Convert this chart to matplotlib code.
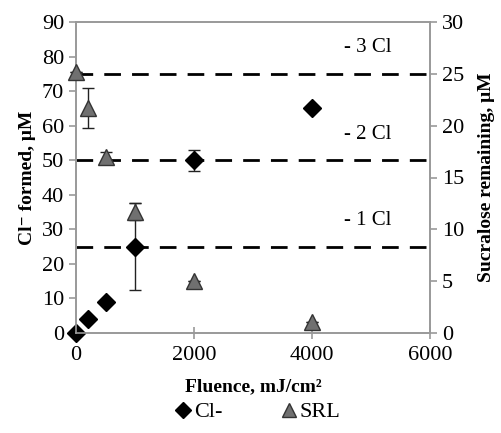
import numpy as np
import matplotlib.pyplot as plt
from matplotlib.lines import Line2D

plt.rcParams['font.family'] = ['Liberation Serif', 'DejaVu Serif']

fluence = [0, 200, 500, 1000, 2000, 4000]
cl_formed = [0, 4, 9, 25, 50, 65]
cl_err = [0, 0, 0, 12.5, 3, 0]
srl = [25.2, 21.7, 17.0, 11.7, 5.0, 1.1]
srl_err = [0, 1.9, 0.5, 0.8, 0, 0]
loss_levels = [25, 50, 75]
loss_labels = ['- 1 Cl', '- 2 Cl', '- 3 Cl']

fig = plt.figure(figsize=(5.02, 4.33), dpi=100)
ax = fig.add_axes([76 / 502, 1 - 333 / 433, 354 / 502, 311 / 433])
ax2 = ax.twinx()

for lvl, lab in zip(loss_levels, loss_labels):
    ax.axhline(lvl, color='black', ls=(0, (6, 4)), lw=2, zorder=1)
    ax.text(4950, lvl + 7.5, lab, ha='center', va='center', fontsize=15)

ax.errorbar(fluence, cl_formed, yerr=cl_err, fmt='D', color='black', ms=9,
            ecolor='#222222', elinewidth=1, capsize=4, zorder=3, clip_on=False)
ax2.errorbar(fluence, srl, yerr=srl_err, fmt='^', mfc='#707070', mec='#333333',
             ms=12, ecolor='#222222', elinewidth=1, capsize=4, zorder=3, clip_on=False)

ax.set_xlim(0, 6000)
ax.set_ylim(0, 90)
ax2.set_ylim(0, 30)
ax.set_xticks([0, 2000, 4000, 6000])
ax.set_yticks(np.arange(0, 91, 10))
ax2.set_yticks(np.arange(0, 31, 5))

for a in (ax, ax2):
    for s in a.spines.values():
        s.set_color('#999999')
        s.set_linewidth(1.2)
    a.tick_params(labelsize=16, color='#999999', width=1.2, length=5)
ax.tick_params(axis='x', direction='inout', length=8, pad=5)

ax.set_xlabel('Fluence, mJ/cm²', fontsize=14, fontweight='bold', labelpad=10)
ax.set_ylabel('Cl⁻ formed, μM', fontsize=14, fontweight='bold', labelpad=4)
ax2.set_ylabel('Sucralose remaining, μM', fontsize=14, fontweight='bold', labelpad=10)

handles = [Line2D([], [], marker='D', color='black', ls='none', ms=8),
           Line2D([], [], marker='^', mfc='#707070', mec='#333333', ls='none', ms=10)]
fig.legend(handles, ['Cl-', 'SRL'], loc='center', bbox_to_anchor=(0.51, 1 - 412 / 433),
           ncol=2, frameon=False, fontsize=16, handletextpad=0.0, columnspacing=2.5,
           handlelength=1.0)

fig.savefig('out.png', dpi=100, facecolor='white')
